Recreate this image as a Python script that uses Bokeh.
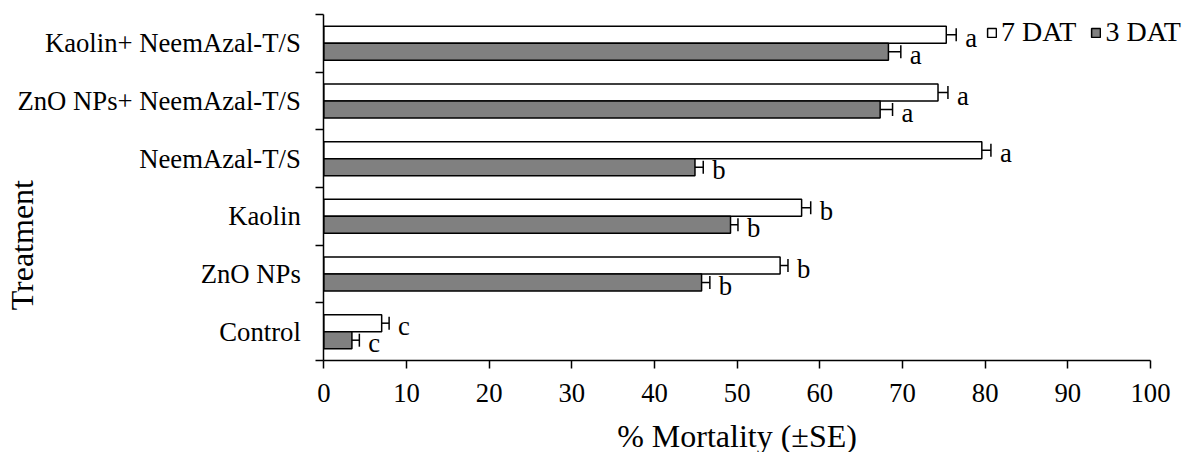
import math
from bokeh.plotting import figure
from bokeh.models import (ColumnDataSource, Range1d, FixedTicker, LinearAxis,
                          Whisker, TeeHead, Legend, LegendItem, Label)
from bokeh.core.properties import value
from bokeh.embed import file_html
from bokeh.resources import INLINE

# ---------------- data ----------------
treatments = ["Control", "ZnO NPs", "Kaolin", "NeemAzal-T/S",
              "ZnO NPs+ NeemAzal-T/S", "Kaolin+ NeemAzal-T/S"]
mort_7dat = [7.0, 55.2, 57.8, 79.6, 74.3, 75.3]
se_7dat = [0.9, 0.95, 1.1, 1.1, 1.2, 1.2]
letters_7dat = ["c", "b", "b", "a", "a", "a"]
mort_3dat = [3.4, 45.7, 49.2, 44.9, 67.3, 68.3]
se_3dat = [0.9, 1.0, 0.9, 1.0, 1.5, 1.5]
letters_3dat = ["c", "b", "b", "b", "a", "a"]
series_names = ["7 DAT", "3 DAT"]
x_ticks = list(range(0, 101, 10))
x_title = "% Mortality (±SE)"
y_title = "Treatment"

FONT = "Liberation Serif"
BAR_H = 0.295
N = len(treatments)

centers = [i + 0.5 for i in range(N)]
y7 = [c + BAR_H / 2 for c in centers]
y3 = [c - BAR_H / 2 for c in centers]

src7 = ColumnDataSource(dict(y=y7, v=mort_7dat, lo=[m - s for m, s in zip(mort_7dat, se_7dat)],
                             hi=[m + s for m, s in zip(mort_7dat, se_7dat)], lab=letters_7dat))
src3 = ColumnDataSource(dict(y=y3, v=mort_3dat, lo=[m - s for m, s in zip(mort_3dat, se_3dat)],
                             hi=[m + s for m, s in zip(mort_3dat, se_3dat)], lab=letters_3dat))

# frame covers the whole canvas; axes are pinned at x=0 / y=0
p = figure(width=1187, height=452, output_backend="svg", toolbar_location=None,
           x_range=Range1d(-39.11, 104.48), y_range=Range1d(-1.595, 6.243),
           x_axis_location=None, y_axis_location=None,
           min_border_left=0, min_border_right=0, min_border_top=0, min_border_bottom=0)
p.outline_line_color = None
p.xgrid.visible = False
p.ygrid.visible = False
p.background_fill_color = "white"

r7 = p.hbar(y="y", right="v", left=0, height=BAR_H, source=src7,
            fill_color="white", line_color="black", line_width=1.5)
r3 = p.hbar(y="y", right="v", left=0, height=BAR_H, source=src3,
            fill_color="#808080", line_color="black", line_width=1.5)

for src in (src7, src3):
    w = Whisker(base="y", lower="lo", upper="hi", source=src, dimension="width",
                line_color="black", line_width=1.5,
                lower_head=TeeHead(size=13, line_width=1.5, line_color="black"),
                upper_head=TeeHead(size=13, line_width=1.5, line_color="black"))
    p.add_layout(w)
    p.text(x="hi", y="y", text="lab", source=src, x_offset=9, y_offset=3,
           text_align="left", text_baseline="middle", text_font=value(FONT),
           text_font_size="26.7px", text_color="black")

# x axis
xa = LinearAxis(fixed_location=0, bounds=(0, 100))
xa.ticker = FixedTicker(ticks=x_ticks)
xa.axis_label = x_title
xa.axis_label_text_font = FONT
xa.axis_label_text_font_size = "32px"
xa.axis_label_text_font_style = "normal"
xa.axis_label_text_color = "black"
xa.axis_label_standoff = 13
xa.major_label_text_font = FONT
xa.major_label_text_font_size = "26.7px"
xa.major_label_text_color = "black"
xa.major_label_standoff = 15
xa.major_tick_out = 8
xa.major_tick_in = 0
xa.minor_tick_line_color = None
xa.axis_line_width = 1.5
xa.axis_line_color = "black"
xa.major_tick_line_width = 1.5
xa.major_tick_line_color = "black"
p.add_layout(xa, "below")

# y axis: labels at category centres, ticks at category boundaries
ya = LinearAxis(fixed_location=0, bounds=(0, N))
ya.ticker = FixedTicker(ticks=centers, minor_ticks=list(range(N + 1)))
ya.major_label_overrides = {c: t for c, t in zip(centers, treatments)}
ya.major_label_text_font = FONT
ya.major_label_text_font_size = "26.7px"
ya.major_label_text_color = "black"
ya.major_label_standoff = 15
ya.major_tick_line_color = None
ya.major_tick_out = 8
ya.major_tick_in = 0
ya.minor_tick_out = 8
ya.minor_tick_in = 0
ya.minor_tick_line_width = 1.5
ya.minor_tick_line_color = "black"
ya.axis_line_width = 1.5
ya.axis_line_color = "black"
p.add_layout(ya, "left")

p.add_layout(Label(x=-36.5, y=2.0, text=y_title, angle=math.pi / 2,
                   text_align="center", text_baseline="middle",
                   text_font=FONT, text_font_size="32px", text_color="black"))

legend = Legend(items=[LegendItem(label=series_names[0], renderers=[r7]),
                       LegendItem(label=series_names[1], renderers=[r3])],
                orientation="horizontal", location=(986, 404),
                padding=0, margin=0, spacing=14, label_standoff=4,
                glyph_width=11, glyph_height=11,
                border_line_color=None, background_fill_alpha=0,
                label_text_font=FONT, label_text_font_size="28px",
                label_text_color="black")
p.add_layout(legend, "center")

open("out.html", "w").write(file_html(p, INLINE))
